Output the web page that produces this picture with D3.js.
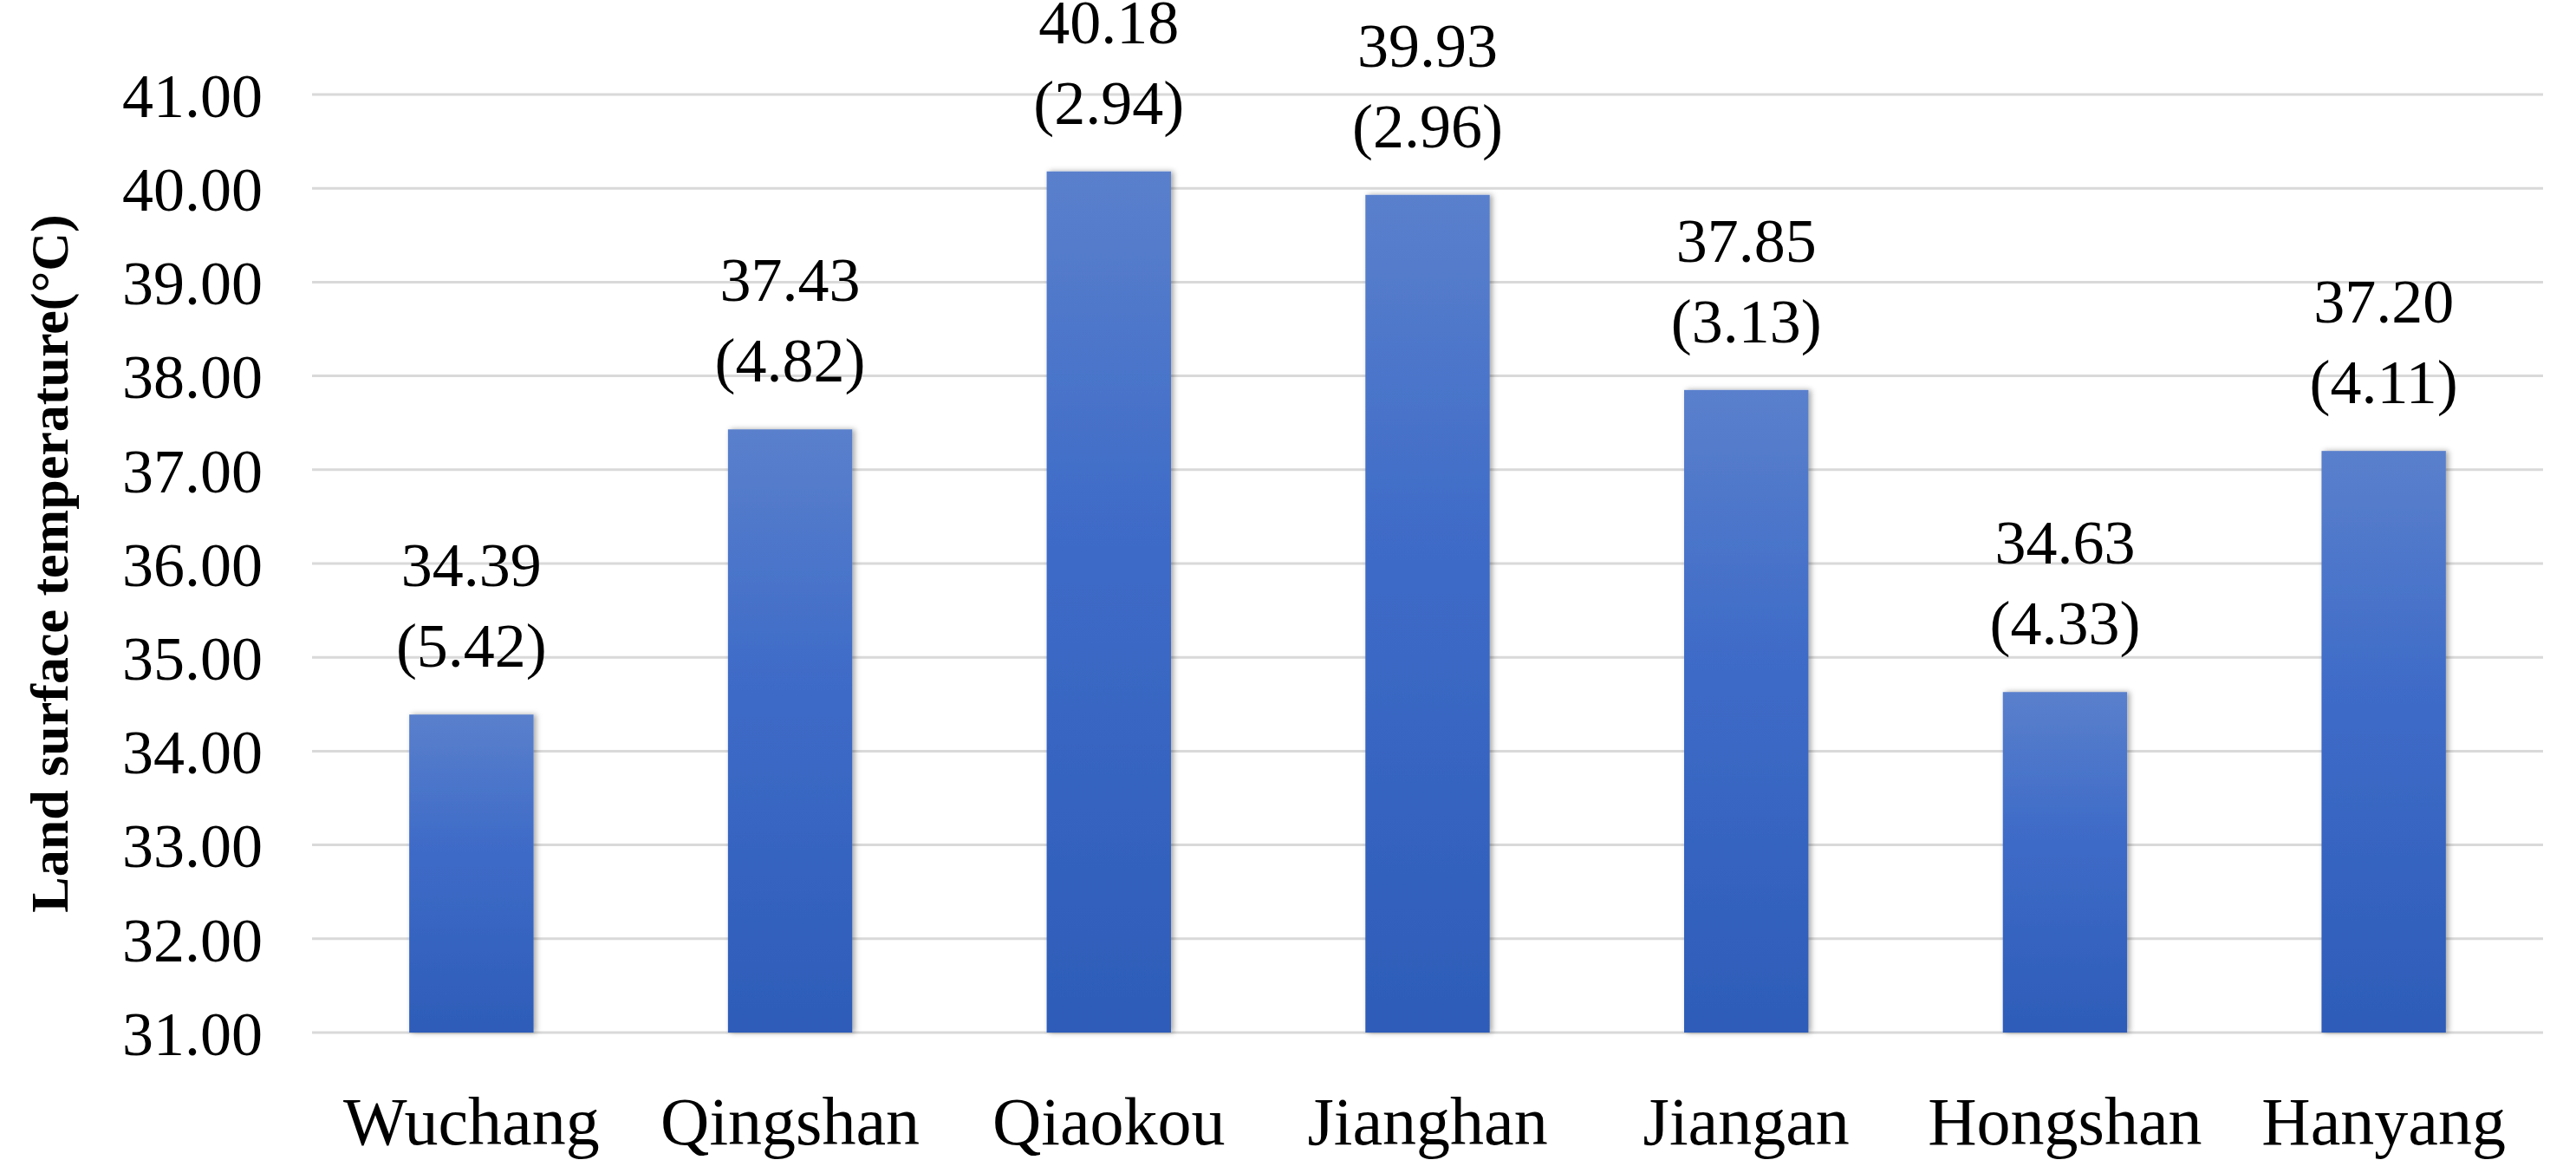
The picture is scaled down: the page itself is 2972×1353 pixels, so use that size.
<!DOCTYPE html>
<html>
<head>
<script src="https://cdn.jsdelivr.net/npm/d3@7"></script>
<style>
  body { margin: 0; background: #fff; }
  text { font-family: "Liberation Serif", "DejaVu Serif", serif; fill: #000; }
</style>
</head>
<body>
<svg id="chart" width="2972" height="1353"></svg>
<script>
var districts = ["Wuchang", "Qingshan", "Qiaokou", "Jianghan", "Jiangan", "Hongshan", "Hanyang"];
var meanLST = [34.39, 37.43, 40.18, 39.93, 37.85, 34.63, 37.20];
var sdLST = [5.42, 4.82, 2.94, 2.96, 3.13, 4.33, 4.11];
var yTicks = [31, 32, 33, 34, 35, 36, 37, 38, 39, 40, 41];

var svg = d3.select("#chart");
var plotLeft = 360, plotRight = 2934, plotTop = 109, plotBottom = 1191;

var x = d3.scaleBand().domain(districts).range([plotLeft, plotRight]).paddingInner(0.61).paddingOuter(0.305);
var y = d3.scaleLinear().domain([31, 41]).range([plotBottom, plotTop]);

var defs = svg.append("defs");
var grad = defs.append("linearGradient").attr("id", "barGrad")
  .attr("x1", 0).attr("y1", 0).attr("x2", 0).attr("y2", 1);
grad.append("stop").attr("offset", "0%").attr("stop-color", "#5a80cc");
grad.append("stop").attr("offset", "40%").attr("stop-color", "#3f6cc8");
grad.append("stop").attr("offset", "100%").attr("stop-color", "#2d5cb8");
var f = defs.append("filter").attr("id", "shadow").attr("x", "-20%").attr("width", "140%");
f.append("feDropShadow").attr("dx", 3).attr("dy", 0).attr("stdDeviation", 3).attr("flood-color", "#000").attr("flood-opacity", 0.35);

// grid
svg.append("g").selectAll("line").data(yTicks).enter().append("line")
  .attr("x1", plotLeft).attr("x2", plotRight)
  .attr("y1", function(d){ return y(d); }).attr("y2", function(d){ return y(d); })
  .attr("stroke", "#d9d9d9").attr("stroke-width", 3);

// y axis labels
var yAxis = d3.axisLeft(y).tickValues(yTicks).tickSize(0).tickPadding(0).tickFormat(d3.format(".2f"));
var ya = svg.append("g").attr("transform", "translate(303,0)").call(yAxis);
ya.select(".domain").remove();
ya.selectAll("text").style("font-size", "72px").style("font-family", "Liberation Serif").attr("dy", "0.35em");

// bars
svg.append("g").selectAll("rect").data(districts).enter().append("rect")
  .attr("x", function(d){ return x(d); })
  .attr("width", x.bandwidth())
  .attr("y", function(d, i){ return y(meanLST[i]); })
  .attr("height", function(d, i){ return y(31) - y(meanLST[i]); })
  .attr("fill", "url(#barGrad)")
  .attr("filter", "url(#shadow)");

// data labels
var lab = svg.append("g").selectAll("g").data(districts).enter().append("g");
lab.append("text")
  .attr("x", function(d){ return x(d) + x.bandwidth() / 2; })
  .attr("y", function(d, i){ return y(meanLST[i]) - 148; })
  .attr("text-anchor", "middle").style("font-size", "72px")
  .text(function(d, i){ return meanLST[i].toFixed(2); });
lab.append("text")
  .attr("x", function(d){ return x(d) + x.bandwidth() / 2; })
  .attr("y", function(d, i){ return y(meanLST[i]) - 55; })
  .attr("text-anchor", "middle").style("font-size", "72px")
  .text(function(d, i){ return "(" + sdLST[i].toFixed(2) + ")"; });

// x axis labels
var xAxis = d3.axisBottom(x).tickSize(0).tickPadding(0);
var xa = svg.append("g").attr("transform", "translate(0,1320)").call(xAxis);
xa.select(".domain").remove();
xa.selectAll("text").style("font-size", "78px").style("font-family", "Liberation Serif").attr("dy", 0);

// y title
svg.append("text")
  .attr("transform", "translate(78,650) rotate(-90)")
  .attr("text-anchor", "middle")
  .style("font-size", "62px").style("font-weight", "bold")
  .text("Land surface temperature(\u00B0C)");
</script>
</body>
</html>
